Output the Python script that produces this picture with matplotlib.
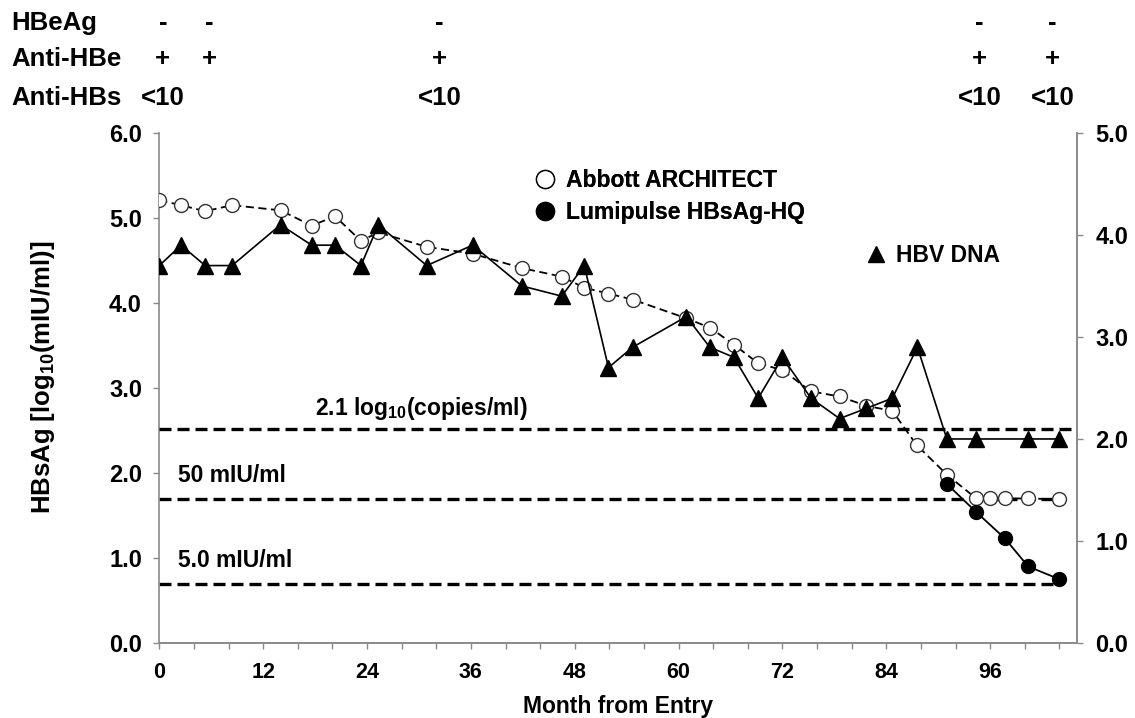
import numpy as np
import matplotlib
matplotlib.use("Agg")
import matplotlib.pyplot as plt
import matplotlib.transforms as mtransforms
from matplotlib.lines import Line2D
from matplotlib.ticker import MultipleLocator, FixedLocator, FormatStrFormatter

plt.rcParams['font.family'] = ['Liberation Sans', 'DejaVu Sans']
plt.rcParams['font.weight'] = 'bold'
plt.rcParams['mathtext.fontset'] = 'custom'
plt.rcParams['mathtext.default'] = 'regular'

# --- DATA ---
# HBsAg, Abbott ARCHITECT [log10(mIU/ml)]
meses_abbott = [0, 2.5, 5.3, 8.4, 14.0, 17.6, 20.3, 23.3, 25.3, 30.9, 36.2,
                41.9, 46.5, 49.1, 51.9, 54.7, 60.9, 63.6, 66.4, 69.2, 72.0,
                75.3, 78.6, 81.7, 84.7, 87.5, 91.0, 94.4, 96.0, 97.7, 100.4, 104.0]
abbott = [5.21, 5.15, 5.08, 5.15, 5.09, 4.91, 5.02, 4.73, 4.83, 4.66, 4.58,
          4.41, 4.31, 4.18, 4.11, 4.04, 3.82, 3.71, 3.51, 3.29, 3.21,
          2.96, 2.90, 2.79, 2.73, 2.33, 1.98, 1.70, 1.70, 1.70, 1.70, 1.69]

# HBsAg, Lumipulse HBsAg-HQ [log10(mIU/ml)]
meses_lumi = [91.0, 94.4, 97.7, 100.4, 104.0]
lumi = [1.87, 1.54, 1.23, 0.90, 0.75]

# HBV DNA [log10(copies/ml)] - eixo direito
meses_dna = [0, 2.5, 5.3, 8.4, 14.0, 17.6, 20.3, 23.3, 25.3, 30.9, 36.2,
             41.9, 46.5, 49.1, 51.9, 54.7, 60.9, 63.6, 66.4, 69.2, 72.0,
             75.3, 78.6, 81.7, 84.7, 87.6, 91.0, 94.4, 100.4, 104.0]
dna = [3.7, 3.9, 3.7, 3.7, 4.1, 3.9, 3.9, 3.7, 4.1, 3.7, 3.9,
       3.5, 3.4, 3.7, 2.7, 2.9, 3.2, 2.9, 2.8, 2.4, 2.8,
       2.4, 2.2, 2.3, 2.4, 2.9, 2.0, 2.0, 2.0, 2.0]

# Marcadores sorológicos no topo
linhas_sorologia = ['HBeAg', 'Anti-HBe', 'Anti-HBs']
meses_sorologia = [0.4, 5.8, 32.4, 94.8, 103.2]
hbeag = ['-', '-', '-', '-', '-']
anti_hbe = ['+', '+', '+', '+', '+']
anti_hbs = ['<10', '', '<10', '<10', '<10']

# Limites de referência
limite_dna = 2.1              # log10(copies/ml)
limite_50 = np.log10(50)      # 50 mIU/ml
limite_5 = np.log10(5.0)      # 5.0 mIU/ml

# --- FIGURA ---
fig = plt.figure(figsize=(11.35, 7.18), dpi=100)
ax = fig.add_axes([0.1404, 0.1045, 0.8082, 0.7103])
ax2 = ax.twinx()

cinza = '#8a8a8a'
fs = 16.5        # legenda, anotações, título do eixo x
fs_y = 17        # rótulos dos eixos y
fs_x = 15.5      # rótulos do eixo x
fs_topo = 18.5   # tabela de sorologia e título do eixo y

ax.set_xlim(0, 106)
ax.set_ylim(0, 6)
ax2.set_ylim(0, 5)

# linhas de referência tracejadas
tracejado = (0, (3.6, 1.8))
ax2.plot([0, 106], [limite_dna, limite_dna], color='k', lw=2.4, ls=tracejado, zorder=1)
ax.plot([0, 104], [limite_50, limite_50], color='k', lw=2.4, ls=tracejado, zorder=1)
ax.plot([0, 104], [limite_5, limite_5], color='k', lw=2.4, ls=tracejado, zorder=1)

ax2.annotate(r'2.1 log$_{10}$(copies/ml)', xy=(42.6, limite_dna), xytext=(0, 5),
             textcoords='offset points', ha='right', va='bottom', fontsize=fs, fontweight='bold')
ax.annotate('50 mIU/ml', xy=(2.2, limite_50), xytext=(0, 8),
            textcoords='offset points', ha='left', va='bottom', fontsize=fs, fontweight='bold')
ax.annotate('5.0 mIU/ml', xy=(2.2, limite_5), xytext=(0, 8),
            textcoords='offset points', ha='left', va='bottom', fontsize=fs, fontweight='bold')

# séries
ax.plot(meses_abbott, abbott, color='k', lw=1.3, ls=(0, (4.5, 2.5)), marker='o', ms=10,
        mfc='white', mec='#333333', mew=1.0, zorder=3)
ax.plot(meses_lumi, lumi, color='k', lw=1.3, marker='o', ms=10, mfc='k', mec='k', zorder=4)
ax2.plot(meses_dna, dna, color='k', lw=1.2, marker='^', ms=12, mfc='k', mec='k', zorder=5)

# --- EIXOS ---
for a in (ax, ax2):
    a.spines['top'].set_visible(False)
    for s in ('left', 'right', 'bottom'):
        a.spines[s].set_color(cinza)
        a.spines[s].set_linewidth(1.2)
    a.tick_params(axis='both', which='both', direction='out', color=cinza, width=1.0,
                  length=4.5)
ax2.spines['left'].set_visible(False)

ax.xaxis.set_major_locator(MultipleLocator(12))
ax.xaxis.set_minor_locator(FixedLocator([m for m in range(0, 105, 4) if m % 12 != 0]))
ax.yaxis.set_major_locator(MultipleLocator(1))
ax.yaxis.set_major_formatter(FormatStrFormatter('%.1f'))
ax2.yaxis.set_major_locator(MultipleLocator(1))
ax2.yaxis.set_major_formatter(FormatStrFormatter('%.1f'))
ax.tick_params(axis='y', pad=8, labelsize=fs_y)
ax2.tick_params(axis='y', pad=9, labelsize=fs_y)
ax.tick_params(axis='x', pad=9, labelsize=fs_x)
for lab in ax.get_yticklabels() + ax2.get_yticklabels() + ax.get_xticklabels():
    lab.set_fontweight('bold')

ax.set_xlabel('Month from Entry', fontsize=fs, fontweight='bold', labelpad=9)
ax.set_ylabel(r'HBsAg [log$_{10}$(mIU/ml)]', fontsize=fs_topo, fontweight='bold')
ax.yaxis.set_label_coords(-0.112, 0.52)

# --- LEGENDAS ---
h_abbott = Line2D([], [], ls='none', marker='o', ms=13, mfc='white', mec='k', mew=1.0)
h_lumi = Line2D([], [], ls='none', marker='o', ms=13, mfc='k', mec='k')
leg = ax.legend([h_abbott, h_lumi], ['Abbott ARCHITECT', 'Lumipulse HBsAg-HQ'],
                loc='upper left', bbox_to_anchor=(0.469, 0.764), bbox_transform=fig.transFigure,
                frameon=False, handlelength=1.1, handletextpad=0.35, labelspacing=0.38,
                borderpad=0, borderaxespad=0, prop={'size': fs, 'weight': 'bold'})
ax.add_artist(leg)
h_dna = Line2D([], [], ls='none', marker='^', ms=12, mfc='k', mec='k')
ax2.legend([h_dna], ['HBV DNA'], loc='upper left', bbox_to_anchor=(0.762, 0.660),
           bbox_transform=fig.transFigure, frameon=False, handlelength=1.0,
           handletextpad=0.35, borderpad=0, borderaxespad=0,
           prop={'size': fs, 'weight': 'bold'})

# --- SOROLOGIA NO TOPO ---
trans = mtransforms.blended_transform_factory(ax.transData, fig.transFigure)
alturas = [0.968, 0.918, 0.863]
for nome, y in zip(linhas_sorologia, alturas):
    fig.text(0.010, y, nome, ha='left', va='center', fontsize=fs_topo, fontweight='bold')
for valores, y in zip([hbeag, anti_hbe, anti_hbs], alturas):
    for mes, v in zip(meses_sorologia, valores):
        if v:
            ax.text(mes, y, v, transform=trans, ha='center', va='center',
                    fontsize=fs_topo, fontweight='bold', clip_on=False)

fig.savefig('out.png', dpi=100)
